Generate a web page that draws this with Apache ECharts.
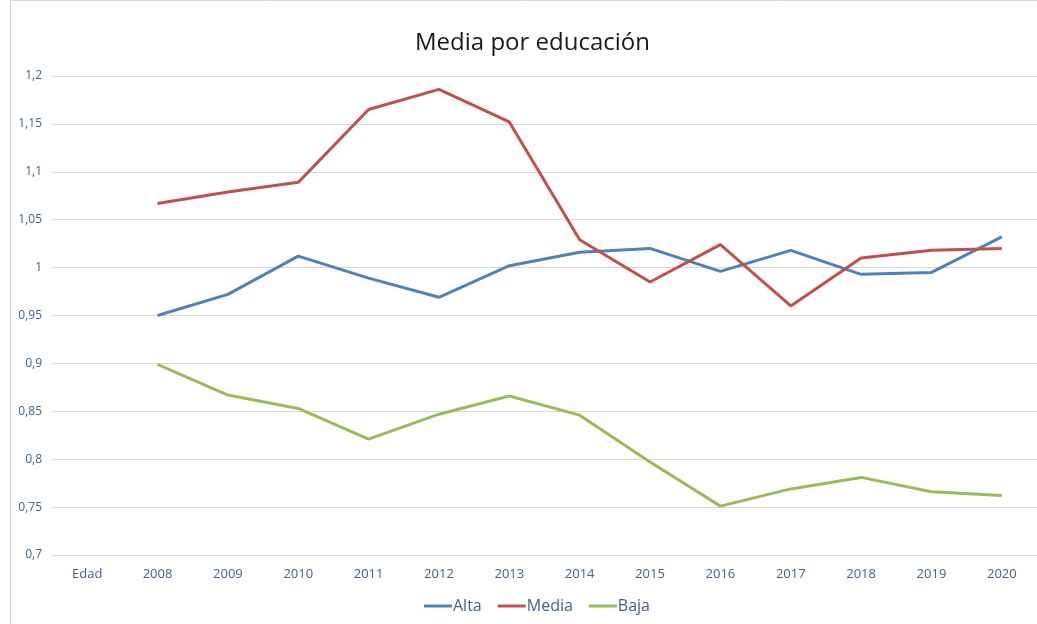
<!DOCTYPE html>
<html>
<head>
<meta charset="utf-8">
<script src="https://cdn.jsdelivr.net/npm/echarts@6/dist/echarts.min.js"></script>
<style>
  html, body { margin: 0; padding: 0; background: #fff; }
  #chart { width: 1037px; height: 624px; }
</style>
</head>
<body>
<div id="chart"></div>
<script>
const categories = ['Edad', '2008', '2009', '2010', '2011', '2012', '2013', '2014', '2015', '2016', '2017', '2018', '2019', '2020']
const alta  = [null, 0.950, 0.972, 1.012, 0.989, 0.969, 1.002, 1.016, 1.020, 0.996, 1.018, 0.993, 0.995, 1.032]
const media = [null, 1.067, 1.079, 1.089, 1.165, 1.186, 1.152, 1.029, 0.985, 1.024, 0.960, 1.010, 1.018, 1.020]
const baja  = [null, 0.899, 0.867, 0.853, 0.821, 0.847, 0.866, 0.846, 0.797, 0.751, 0.769, 0.781, 0.766, 0.762]
const seriesNames = ['Alta', 'Media', 'Baja']
const colors = ['#4f81bd', '#c0504d', '#9bbb59']

const font = 'Open Sans'
const labelColor = '#44618f'

const chart = echarts.init(document.getElementById('chart'))

function line(name, data, color) {
  return {
    name: name,
    type: 'line',
    data: data,
    symbol: 'none',
    smooth: false,
    lineStyle: { color: color, width: 3 },
    itemStyle: { color: color },
    animation: false
  }
}

chart.setOption({
  backgroundColor: '#fff',
  title: {
    text: 'Media por educación',
    left: 410,
    top: 26,
    textStyle: { fontFamily: font, fontSize: 24, fontWeight: 'normal', color: '#1a1a1a' }
  },
  legend: {
    data: seriesNames,
    bottom: 5,
    left: 419,
    icon: 'rect',
    itemWidth: 28,
    itemHeight: 3,
    itemGap: 16,
    textStyle: { fontFamily: font, fontSize: 16, color: labelColor, padding: [0, 0, 0, -4] }
  },
  grid: { left: 52, right: 0, top: 76, bottom: 69, containLabel: false },
  xAxis: {
    type: 'category',
    data: categories,
    boundaryGap: true,
    axisLine: { show: true, lineStyle: { color: '#d9d9d9', width: 1 } },
    axisTick: { show: false },
    axisLabel: { fontFamily: font, fontSize: 13, color: labelColor, margin: 13 }
  },
  yAxis: {
    type: 'value',
    min: 0.7,
    max: 1.2,
    interval: 0.05,
    axisLine: { show: false },
    axisTick: { show: false },
    splitLine: { lineStyle: { color: '#d9d9d9', width: 1 } },
    axisLabel: {
      fontFamily: font, fontSize: 12, color: labelColor, margin: 10,
      formatter: v => String(Math.round(v * 100) / 100).replace('.', ',')
    }
  },
  graphic: [
    { type: 'line', shape: { x1: 10.5, y1: 0, x2: 10.5, y2: 624 }, style: { stroke: '#d9d9d9', lineWidth: 1 } },
    { type: 'line', shape: { x1: 10, y1: 0.5, x2: 1037, y2: 0.5 }, style: { stroke: '#d9d9d9', lineWidth: 1 } }
  ],
  series: [
    line(seriesNames[0], alta, colors[0]),
    line(seriesNames[1], media, colors[1]),
    line(seriesNames[2], baja, colors[2])
  ]
})
</script>
</body>
</html>
